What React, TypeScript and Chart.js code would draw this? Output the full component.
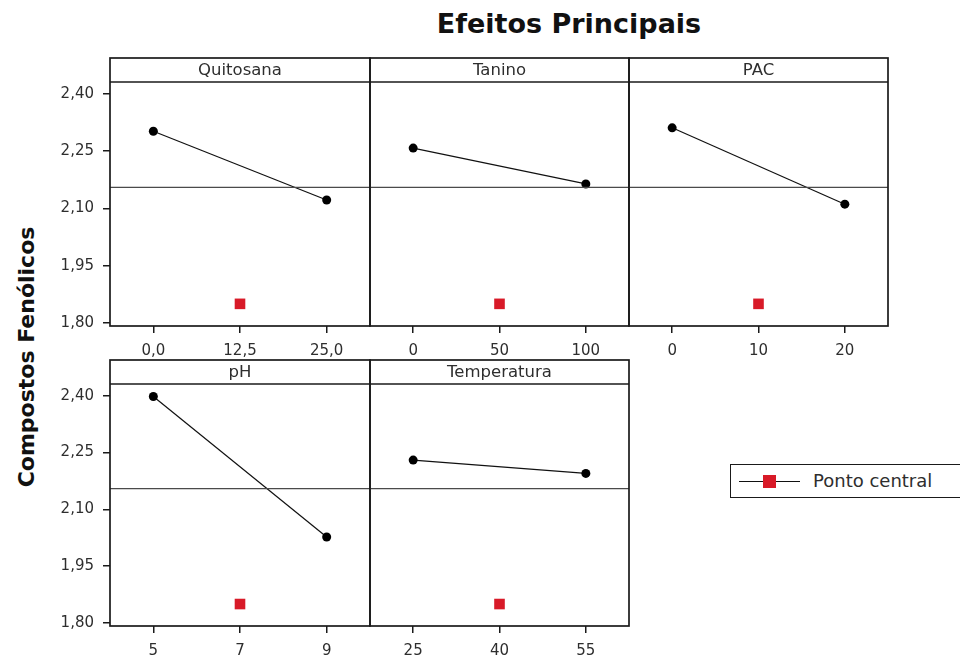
import React, { useEffect, useRef } from "react";
import { Chart, registerables } from "chart.js";

Chart.register(...registerables);

// ---------- data ----------
const FACTORS = ["Quitosana", "Tanino", "PAC", "pH", "Temperatura"];
const LEVELS = [
  [0, 12.5, 25],
  [0, 50, 100],
  [0, 10, 20],
  [5, 7, 9],
  [25, 40, 55],
];
const X_TICK_LABELS = [
  ["0,0", "12,5", "25,0"],
  ["0", "50", "100"],
  ["0", "10", "20"],
  ["5", "7", "9"],
  ["25", "40", "55"],
];
const LEVEL_MEANS = [
  [2.302, 2.122],
  [2.258, 2.164],
  [2.311, 2.111],
  [2.398, 2.027],
  [2.23, 2.195],
];
const CENTER_POINT = [1.85, 1.85, 1.85, 1.85, 1.85];
const GRAND_MEAN = 2.155;
const Y_TICKS = [1.8, 1.95, 2.1, 2.25, 2.4];
const Y_TICK_LABELS = ["1,80", "1,95", "2,10", "2,25", "2,40"];
const Y_MIN = 1.792;
const Y_MAX = 2.431;
const X_PAD = 0.25;

// ---------- layout ----------
const COLS = [110, 370, 629, 888];
const ROWS = [
  { headerTop: 58, plotTop: 82, plotBottom: 326 },
  { headerTop: 360, plotTop: 384, plotBottom: 626 },
];
const PANEL_POS = [
  [0, 0],
  [0, 1],
  [0, 2],
  [1, 0],
  [1, 1],
];
const FONT = '"DejaVu Sans", Verdana, sans-serif';
const RED = "#d81a28";
const FRAME = "#1a1a1a";
const TEXT = "#2e2e2e";

const framePlugin = {
  id: "frame",
  afterDraw(chart: any, _args: any, opts: any) {
    const { ctx, chartArea: a } = chart;
    const hTop = a.top - opts.headerH;
    ctx.save();
    ctx.strokeStyle = FRAME;
    ctx.lineWidth = 1.7;
    ctx.strokeRect(a.left, hTop, a.right - a.left, a.bottom - hTop);
    ctx.beginPath();
    ctx.moveTo(a.left, a.top);
    ctx.lineTo(a.right, a.top);
    ctx.stroke();
    ctx.fillStyle = TEXT;
    ctx.font = "16.5px " + FONT;
    ctx.textAlign = "center";
    ctx.textBaseline = "middle";
    ctx.fillText(opts.title, (a.left + a.right) / 2, hTop + opts.headerH / 2 + 1);
    ctx.restore();
  },
};

function Panel({ idx }: { idx: number }) {
  const ref = useRef<HTMLCanvasElement | null>(null);
  const [row, col] = PANEL_POS[idx];
  const r = ROWS[row];
  const left = COLS[col];
  const right = COLS[col + 1];
  const padL = col === 0 ? left : 12;
  const padR = 12;
  const extraTop = 12;
  const headerH = r.plotTop - r.headerTop;
  const padT = extraTop + headerH;
  const xAxisH = 40;
  const cw = padL + (right - left) + padR;
  const ch = padT + (r.plotBottom - r.plotTop) + xAxisH;
  const canvasLeft = left - padL;
  const canvasTop = r.headerTop - extraTop;

  useEffect(() => {
    const lv = LEVELS[idx];
    const span = lv[2] - lv[0];
    const xmin = lv[0] - X_PAD * span;
    const xmax = lv[2] + X_PAD * span;
    const chart = new Chart(ref.current as HTMLCanvasElement, {
      type: "line",
      data: {
        datasets: [
          {
            label: "Média",
            data: [
              { x: xmin, y: GRAND_MEAN },
              { x: xmax, y: GRAND_MEAN },
            ],
            borderColor: "#4a4a4a",
            borderWidth: 1.2,
            pointRadius: 0,
          },
          {
            label: FACTORS[idx],
            data: [
              { x: lv[0], y: LEVEL_MEANS[idx][0] },
              { x: lv[2], y: LEVEL_MEANS[idx][1] },
            ],
            borderColor: "#111",
            borderWidth: 1.2,
            pointRadius: 4.5,
            pointBackgroundColor: "#000",
            pointBorderColor: "#000",
            pointBorderWidth: 0,
          },
          {
            label: "Ponto central",
            data: [{ x: lv[1], y: CENTER_POINT[idx] }],
            showLine: false,
            pointStyle: "rect",
            pointRadius: 7.5,
            pointBackgroundColor: RED,
            pointBorderColor: RED,
            pointBorderWidth: 0,
          },
        ],
      } as any,
      options: {
        responsive: false,
        animation: false,
        events: [],
        layout: { padding: { left: col === 0 ? 0 : padL, right: padR, top: padT, bottom: 0 } },
        plugins: {
          legend: { display: false },
          tooltip: { enabled: false },
          frame: { title: FACTORS[idx], headerH },
        } as any,
        scales: {
          x: {
            type: "linear",
            min: xmin,
            max: xmax,
            afterBuildTicks: (s: any) => {
              s.ticks = lv.map((v) => ({ value: v }));
            },
            afterFit: (s: any) => {
              s.height = xAxisH;
            },
            ticks: {
              autoSkip: false,
              maxRotation: 0,
              padding: 9,
              color: TEXT,
              font: { family: FONT, size: 15 },
              callback: (_v: any, i: number) => X_TICK_LABELS[idx][i],
            },
            grid: { drawOnChartArea: false, drawTicks: true, tickLength: 7, color: FRAME, lineWidth: 1.5 },
            border: { display: false },
          },
          y: {
            display: col === 0,
            min: Y_MIN,
            max: Y_MAX,
            afterBuildTicks: (s: any) => {
              s.ticks = Y_TICKS.map((v) => ({ value: v }));
            },
            afterFit: (s: any) => {
              s.width = col === 0 ? left : 0;
            },
            ticks: {
              autoSkip: false,
              padding: 9,
              color: TEXT,
              font: { family: FONT, size: 15 },
              callback: (_v: any, i: number) => Y_TICK_LABELS[i],
            },
            grid: { drawOnChartArea: false, drawTicks: true, tickLength: 7, color: FRAME, lineWidth: 1.5 },
            border: { display: false },
          },
        },
      } as any,
      plugins: [framePlugin],
    });
    return () => chart.destroy();
  }, []);

  return (
    <canvas
      ref={ref}
      width={cw}
      height={ch}
      style={{ position: "absolute", left: canvasLeft, top: canvasTop, width: cw, height: ch }}
    />
  );
}

function Legend() {
  return (
    <div
      style={{
        position: "absolute",
        left: 730,
        top: 464,
        width: 260,
        height: 34,
        border: `1.5px solid ${FRAME}`,
        boxSizing: "border-box",
        background: "#fff",
      }}
    >
      <div style={{ position: "absolute", left: 8, top: 16, width: 61, height: 1.3, background: "#111" }} />
      <div style={{ position: "absolute", left: 32, top: 10, width: 13, height: 13, background: RED }} />
      <div
        style={{
          position: "absolute",
          left: 82,
          top: 4,
          font: `18px ${FONT}`,
          color: TEXT,
          whiteSpace: "nowrap",
          lineHeight: "24px",
        }}
      >
        Ponto central
      </div>
    </div>
  );
}

export default function App() {
  useEffect(() => {
    document.body.style.margin = "0";
  }, []);
  return (
    <div
      style={{
        position: "absolute",
        left: 0,
        top: 0,
        width: 960,
        height: 660,
        overflow: "hidden",
        background: "#fff",
        fontFamily: FONT,
      }}
    >
      <div
        style={{
          position: "absolute",
          left: 569,
          top: 10,
          transform: "translateX(-50%)",
          font: `bold 27px ${FONT}`,
          lineHeight: "27px",
          color: "#111",
          whiteSpace: "nowrap",
        }}
      >
        Efeitos Principais
      </div>
      <div
        style={{
          position: "absolute",
          left: 26,
          top: 357,
          transform: "translate(-50%, -50%) rotate(-90deg)",
          font: `bold 22px ${FONT}`,
          color: "#111",
          whiteSpace: "nowrap",
        }}
      >
        Compostos Fenólicos
      </div>
      {FACTORS.map((f, i) => (
        <Panel key={f} idx={i} />
      ))}
      <Legend />
    </div>
  );
}
